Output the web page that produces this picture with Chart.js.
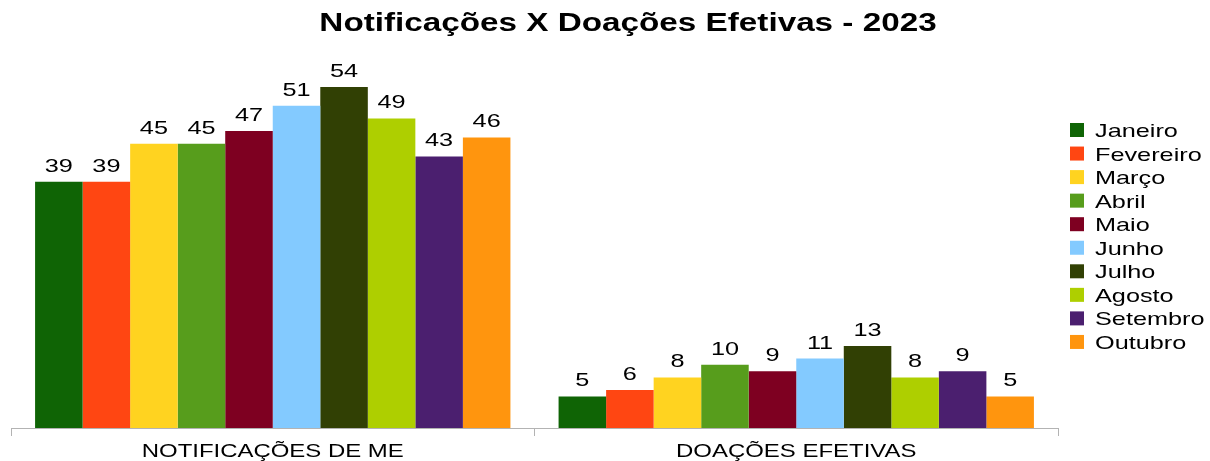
<!DOCTYPE html>
<html>
<head>
<meta charset="utf-8">
<script src="https://cdn.jsdelivr.net/npm/chart.js@4/dist/chart.umd.min.js"></script>
<style>
  html, body { margin: 0; padding: 0; background: #fff; }
  #wrap { width: 1210px; height: 461px; }
</style>
</head>
<body>
<div id="wrap"><canvas id="chart"></canvas></div>
<script>
const categories = ['NOTIFICAÇÕES DE ME', 'DOAÇÕES EFETIVAS'];
const months = ['Janeiro', 'Fevereiro', 'Março', 'Abril', 'Maio', 'Junho', 'Julho', 'Agosto', 'Setembro', 'Outubro'];
const notificacoes = [39, 39, 45, 45, 47, 51, 54, 49, 43, 46];
const doacoes = [5, 6, 8, 10, 9, 11, 13, 8, 9, 5];
const colors = ['#0f6405', '#ff4612', '#ffd320', '#579d1c', '#7e0021', '#83caff', '#314004', '#aecf00', '#4b1f6f', '#ff950e'];
const titleText = 'Notificações X Doações Efetivas - 2023';

const FONT = '"Liberation Sans", Arial, sans-serif';
const STRETCH = 1.33; // the original text is drawn wide

const datasets = months.map((m, i) => ({
  label: m,
  data: [notificacoes[i], doacoes[i]],
  backgroundColor: colors[i],
  borderWidth: 0,
  categoryPercentage: 0.908,
  barPercentage: 1.0
}));

function wideText(ctx, text, x, y, font, align) {
  ctx.save();
  ctx.font = font;
  ctx.fillStyle = '#000';
  ctx.textAlign = align;
  ctx.textBaseline = 'alphabetic';
  ctx.translate(x, y);
  ctx.scale(STRETCH, 1);
  ctx.fillText(text, 0, 0);
  ctx.restore();
}

// title, value labels, category labels and legend, all in stretched text
const textPlugin = {
  id: 'wideTexts',
  afterDraw(chart) {
    const ctx = chart.ctx;
    const area = chart.chartArea;

    wideText(ctx, titleText, 628, 31, 'bold 25px ' + FONT, 'center');

    chart.data.datasets.forEach((ds, i) => {
      chart.getDatasetMeta(i).data.forEach((bar, j) => {
        wideText(ctx, String(ds.data[j]), bar.x, bar.y - 10, '19px ' + FONT, 'center');
      });
    });

    const xs = chart.scales.x;
    chart.data.labels.forEach((lab, k) => {
      wideText(ctx, lab, xs.getPixelForValue(k), 457, '18px ' + FONT, 'center');
    });

    const boxX = area.right + 12;
    const top = 130;
    const step = 23.55;
    chart.data.datasets.forEach((ds, i) => {
      const cy = top + i * step;
      ctx.fillStyle = ds.backgroundColor;
      ctx.fillRect(boxX, cy - 7, 14, 14);
      wideText(ctx, ds.label, boxX + 25, cy + 7, '19px ' + FONT, 'left');
    });
  }
};

new Chart(document.getElementById('chart'), {
  type: 'bar',
  data: { labels: categories, datasets: datasets },
  options: {
    responsive: true,
    maintainAspectRatio: false,
    animation: false,
    layout: { padding: { top: 49, left: 11, right: 152, bottom: 25 } },
    plugins: {
      title: { display: false },
      tooltip: { enabled: false },
      legend: { display: false }
    },
    scales: {
      x: {
        grid: {
          offset: true,
          drawOnChartArea: false,
          drawTicks: true,
          tickLength: 8,
          color: '#b3b3b3'
        },
        border: { color: '#b3b3b3', width: 1 },
        ticks: { display: false }
      },
      y: {
        display: false,
        min: 0,
        max: 60
      }
    }
  },
  plugins: [textPlugin]
});
</script>
</body>
</html>
